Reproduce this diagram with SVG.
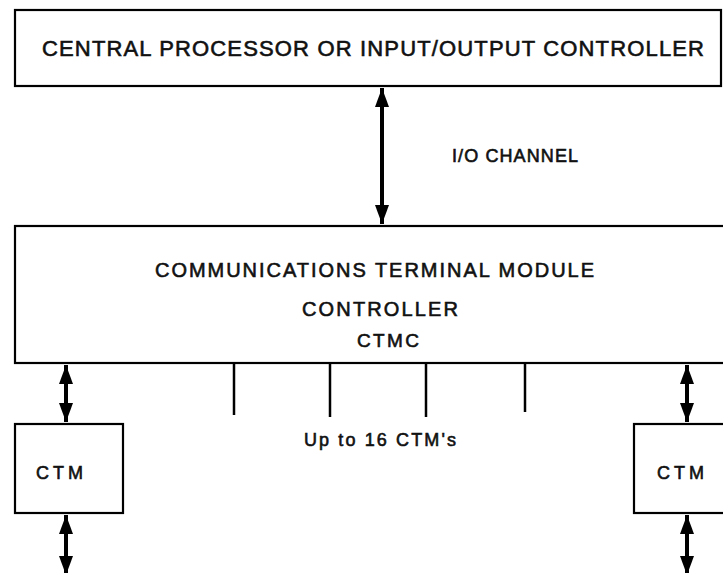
<svg xmlns="http://www.w3.org/2000/svg" width="723" height="573" viewBox="0 0 723 573">
<style>
.box{fill:#fff;stroke:#000;stroke-width:2.2}
.t{font-family:"Liberation Sans",Arial,sans-serif;font-weight:normal;fill:#111;stroke:#111;stroke-width:0.6;text-anchor:start}
.arr{stroke:#000;stroke-width:4;fill:none}
.tick{stroke:#000;stroke-width:2.5}
</style>
<defs>
<marker id="ah" markerUnits="userSpaceOnUse" markerWidth="20" markerHeight="16" refX="19" refY="7" orient="auto-start-reverse" viewBox="0 0 20 14">
<path d="M0,0 L19,7 L0,14 Z" fill="#000"/>
</marker>
</defs>
<rect width="723" height="573" fill="#fff"/>
<g id="cpu">
<rect class="box" x="15" y="10" width="706" height="76"/>
<text class="t" x="42" y="56" font-size="22" textLength="662" lengthAdjust="spacing">CENTRAL PROCESSOR OR INPUT/OUTPUT CONTROLLER</text>
</g>
<g id="ctmc">
<rect class="box" x="15" y="226" width="712" height="137"/>
<text class="t" x="155" y="277" font-size="20" textLength="439" lengthAdjust="spacing">COMMUNICATIONS TERMINAL MODULE</text>
<text class="t" x="302" y="316" font-size="20" textLength="156" lengthAdjust="spacing">CONTROLLER</text>
<text class="t" x="357" y="347" font-size="19" textLength="62" lengthAdjust="spacing">CTMC</text>
</g>
<g id="ctm-left">
<rect class="box" x="15" y="424" width="108" height="89"/>
<text class="t" x="36" y="479" font-size="18" textLength="47" lengthAdjust="spacing">CTM</text>
</g>
<g id="ctm-right">
<rect class="box" x="634" y="424" width="93" height="89"/>
<text class="t" x="657" y="479" font-size="18" textLength="47" lengthAdjust="spacing">CTM</text>
</g>
<g id="labels">
<text class="t" x="452" y="162" font-size="18" textLength="126" lengthAdjust="spacing">I/O CHANNEL</text>
<text class="t" x="304" y="446" font-size="18" textLength="152" lengthAdjust="spacing">Up to 16 CTM's</text>
</g>
<g id="connectors">
<line class="arr" x1="382" y1="88" x2="382" y2="224" marker-start="url(#ah)" marker-end="url(#ah)"/>
<line class="arr" x1="66" y1="365" x2="66" y2="422" marker-start="url(#ah)" marker-end="url(#ah)"/>
<line class="arr" x1="66" y1="515" x2="66" y2="575" marker-start="url(#ah)" marker-end="url(#ah)"/>
<line class="arr" x1="687" y1="365" x2="687" y2="422" marker-start="url(#ah)" marker-end="url(#ah)"/>
<line class="arr" x1="687" y1="515" x2="687" y2="575" marker-start="url(#ah)" marker-end="url(#ah)"/>
<line class="tick" x1="234" y1="363" x2="234" y2="415"/>
<line class="tick" x1="330" y1="363" x2="330" y2="417"/>
<line class="tick" x1="426" y1="363" x2="426" y2="417"/>
<line class="tick" x1="525" y1="363" x2="525" y2="412"/>
</g>
</svg>
